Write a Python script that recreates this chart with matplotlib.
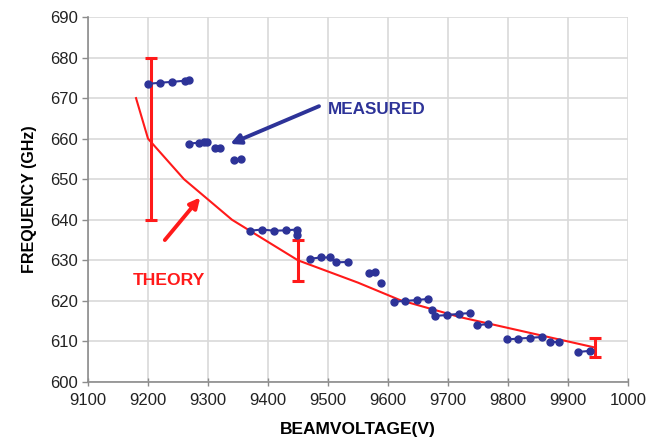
import matplotlib.pyplot as plt

# -----------------------------
# Data
# -----------------------------
# measured points, grouped into the little connected runs seen in the chart
meas_v = [
    [9200, 9220, 9240, 9262, 9268],
    [9268, 9285, 9293, 9298],
    [9312, 9320],
    [9343, 9355],
    [9370, 9390, 9410, 9430, 9448, 9448],
    [9470, 9488, 9503, 9513, 9533],
    [9568, 9578],
    [9588],
    [9610, 9628, 9648, 9667],
    [9673, 9678, 9698, 9718, 9737],
    [9748, 9767],
    [9798, 9817, 9837, 9857],
    [9870, 9885],
    [9917, 9937],
]
meas_f = [
    [673.5, 673.8, 674.0, 674.3, 674.5],
    [658.8, 659.0, 659.2, 659.2],
    [657.6, 657.6],
    [654.8, 654.9],
    [637.3, 637.6, 637.3, 637.4, 637.6, 636.3],
    [630.4, 630.7, 630.7, 629.5, 629.6],
    [627.0, 627.2],
    [624.3],
    [619.8, 620.0, 620.2, 620.5],
    [617.7, 616.3, 616.5, 616.8, 617.0],
    [614.0, 614.3],
    [610.5, 610.7, 610.9, 611.1],
    [609.9, 609.9],
    [607.4, 607.7],
]

theory_v = [9180, 9200, 9260, 9340, 9450, 9550, 9620, 9720, 9945]
theory_f = [670, 660, 650, 640, 630, 624.5, 620.2, 616.0, 608.5]

err_v = [9205, 9450, 9945]
err_f = [660, 630, 608.5]
err_size = [20, 5, 2.3]

x_ticks = list(range(9100, 10001, 100))
x_labels = [str(t) for t in x_ticks[:-1]] + ["1000"]
y_ticks = list(range(600, 691, 10))

# -----------------------------
# Plot
# -----------------------------
plt.rcParams["font.family"] = ["Liberation Sans", "DejaVu Sans"]

red = "#FF1A1A"
blue = "#2D3398"

fig = plt.figure(figsize=(6.54, 4.40), dpi=100)
ax = fig.add_axes([0.1346, 0.1318, 0.8256, 0.8296])

ax.plot(theory_v, theory_f, color=red, linewidth=1.5, zorder=3)

ax.errorbar(err_v, err_f, yerr=err_size, fmt="none", ecolor=red,
            elinewidth=2.2, capsize=4, capthick=2.2, zorder=4)

for vs, fs in zip(meas_v, meas_f):
    ax.plot(vs, fs, color=blue, linewidth=1.5, marker="o", markersize=5,
            markerfacecolor=blue, markeredgecolor=blue, zorder=5)

# annotations
ax.annotate("", xy=(9337, 658.7), xytext=(9485, 668.0),
            arrowprops=dict(arrowstyle="-|>", color=blue, lw=2.8,
                            mutation_scale=15, shrinkA=0, shrinkB=0))
ax.text(9500, 667.3, "MEASURED", color=blue, fontsize=12.3,
        fontweight="bold", ha="left", va="center")

ax.annotate("", xy=(9287, 645.5), xytext=(9228, 635.0),
            arrowprops=dict(arrowstyle="-|>", color=red, lw=2.8,
                            mutation_scale=15, shrinkA=0, shrinkB=0))
ax.text(9175, 625.0, "THEORY", color=red, fontsize=12.6,
        fontweight="bold", ha="left", va="center")

# axes styling
ax.set_xlim(9100, 10000)
ax.set_ylim(600, 690)
ax.set_xticks(x_ticks)
ax.set_xticklabels(x_labels)
ax.set_yticks(y_ticks)

ax.grid(True, color="#D9D9D9", linewidth=1.2, zorder=0)
ax.set_axisbelow(True)

for side in ["top", "right"]:
    ax.spines[side].set_visible(False)
for side in ["left", "bottom"]:
    ax.spines[side].set_color("#8C8C8C")
    ax.spines[side].set_linewidth(1.2)

ax.tick_params(axis="both", colors="#8C8C8C", labelcolor="#222222",
               labelsize=12, length=4, width=1)
ax.tick_params(axis="x", direction="inout", length=6, pad=5)
ax.tick_params(axis="y", direction="out", pad=3)

ax.set_xlabel("BEAMVOLTAGE(V)", fontsize=12.5, fontweight="bold", labelpad=10)
ax.set_ylabel("FREQUENCY (GHz)", fontsize=11.5, fontweight="bold", labelpad=10)

plt.savefig("out.png", dpi=100, facecolor="white")
